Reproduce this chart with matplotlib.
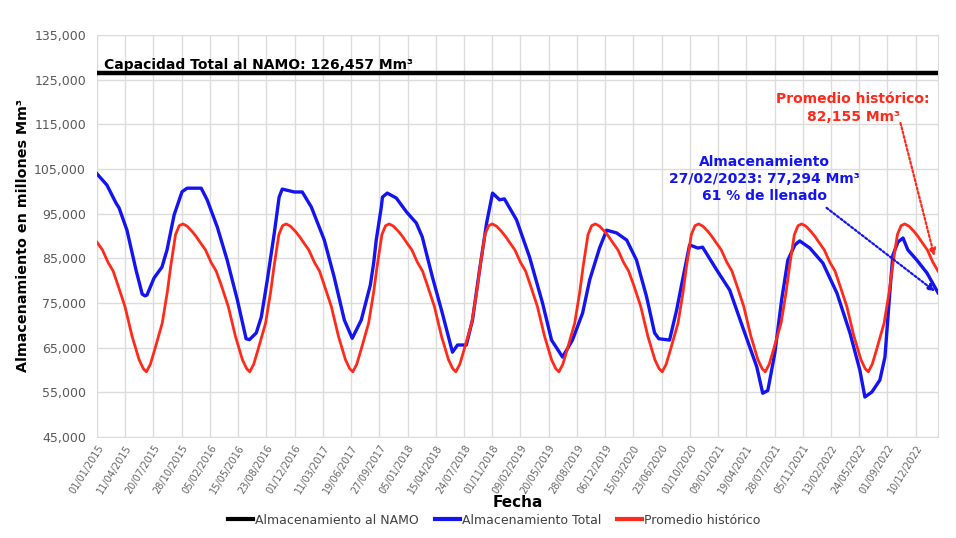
import matplotlib
matplotlib.use('Agg')
import matplotlib.pyplot as plt
from matplotlib.ticker import FuncFormatter
import numpy as np
import pandas as pd

plt.rcParams['font.family'] = ['DejaVu Sans']

# capacidad total al NAMO (Mm3)
namo = 126457

# almacenamiento total: dias desde 01/01/2015 y valor leido (Mm3)
total_dia = [0, 35, 67, 78, 106, 138, 160, 170, 177, 202, 230, 248, 273, 301, 319,
             369, 390, 426, 461, 497, 528, 540, 564, 582, 603, 628, 645, 656, 699,
             727, 759, 805, 840, 876, 904, 936, 968, 980, 989, 1007, 1011, 1028,
             1060, 1096, 1131, 1152, 1188, 1223, 1259, 1277, 1308, 1330, 1355,
             1380, 1401, 1426, 1443, 1486, 1532, 1578, 1610, 1649, 1684, 1720,
             1745, 1780, 1805, 1840, 1876, 1911, 1947, 1975, 1990, 2028, 2053,
             2074, 2099, 2128, 2145, 2195, 2241, 2287, 2337, 2358, 2376, 2401,
             2425, 2447, 2472, 2489, 2525, 2571, 2621, 2667, 2702, 2720, 2745,
             2773, 2791, 2808, 2819, 2837, 2855, 2872, 2904, 2940, 2979]
total_val = [103900, 101400, 97400, 96300, 91300, 82400, 77000, 76600, 76800, 80600,
             83050, 86900, 94700, 99900, 100700, 100700, 98100, 92000, 84600, 75700,
             67000, 66800, 68300, 71900, 80100, 90700, 98700, 100500, 99850, 99850,
             96500, 89100, 80800, 71200, 67100, 71200, 79000, 84000, 89100, 96500,
             98700, 99600, 98500, 95400, 92900, 89800, 80800, 72750, 64000, 65600,
             65600, 71200, 82400, 92900, 99600, 98100, 98300, 93600, 85300, 75000,
             66700, 62900, 66700, 72750, 80150, 87300, 91300, 90700, 89100, 84600,
             76300, 68300, 67000, 66700, 73400, 80150, 88000, 87300, 87500, 82400,
             77900, 69600, 60700, 54800, 55400, 63800, 75700, 84600, 88000, 88900,
             87300, 83950, 77200, 68300, 60000, 53950, 55100, 57750, 62900, 77200,
             85700, 88650, 89550, 86900, 84600, 81700, 77294]

# promedio historico por dia del anio (mes-dia, Mm3)
hist_md = ['01-01', '01-20', '02-09', '02-27', '03-16', '04-10', '05-05', '05-30',
           '06-14', '06-25', '07-09', '07-24', '08-20', '09-07', '09-19', '10-06',
           '10-19', '11-01', '11-16', '12-04', '12-18', '12-31']
hist_val = [88600, 86900, 84100, 82155, 79000, 74200, 67600, 62300, 60300, 59600,
            61300, 64500, 70500, 77500, 83200, 90300, 92300, 92700, 92200, 91000,
            89900, 88700]
anios = [2015, 2016, 2017, 2018, 2019, 2020, 2021, 2022, 2023]

inicio = pd.Timestamp('2015-01-01')
fin = pd.Timestamp('2023-02-27')

total_fecha = inicio + pd.to_timedelta(total_dia, unit='D')

hist_fecha = []
hist_y = []
for a in anios:
    for md, v in zip(hist_md, hist_val):
        f = pd.Timestamp(str(a) + '-' + md)
        if f <= fin:
            hist_fecha.append(f)
            hist_y.append(v)

azul = '#1414f0'
rojo = '#ff2a1a'
gris = '#595959'

fig = plt.figure(figsize=(9.56, 5.38), dpi=100)
ax = fig.add_axes([0.1015, 0.1877, 0.8797, 0.7473])

ax.axhline(namo, color='black', lw=3.2, label='Almacenamiento al NAMO', zorder=3)
ax.plot(total_fecha, total_val, color=azul, lw=2.4, label='Almacenamiento Total', zorder=4)
ax.plot(hist_fecha, hist_y, color=rojo, lw=2.0, label='Promedio histórico', zorder=5)

ax.set_xlim(inicio, fin)
ax.set_ylim(45000, 135000)
ax.set_yticks(np.arange(45000, 135001, 10000))
ax.yaxis.set_major_formatter(FuncFormatter(lambda v, p: '{:,.0f}'.format(v)))

ticks = [inicio + pd.Timedelta(days=d) for d in range(0, 2901, 100)]
ax.set_xticks(ticks)
ax.set_xticklabels([t.strftime('%d/%m/%Y') for t in ticks], rotation=58,
                   ha='right', rotation_mode='anchor', fontsize=7, color='#666666')
ax.tick_params(axis='y', labelsize=9, colors=gris, length=0, pad=8)
ax.tick_params(axis='x', length=0, pad=4)

ax.grid(True, color='#dcdcdc', lw=1)
for s in ax.spines.values():
    s.set_color('#dcdcdc')

ax.set_ylabel('Almacenamiento en millones Mm³', fontsize=10.3, fontweight='bold', labelpad=3)
ax.set_xlabel('Fecha', fontsize=11, fontweight='bold', labelpad=0)

ax.text(0.008, 127300, 'Capacidad Total al NAMO: 126,457 Mm³', transform=ax.get_yaxis_transform(),
        fontsize=10, fontweight='bold', color='black', va='baseline', ha='left', zorder=6)

ax.text(0.899, 0.818, 'Promedio histórico:\n82,155 Mm³', transform=ax.transAxes,
        fontsize=10, fontweight='bold', color=rojo, ha='center', va='center',
        linespacing=1.3)
ax.text(0.794, 0.642, 'Almacenamiento\n27/02/2023: 77,294 Mm³\n61 % de llenado',
        transform=ax.transAxes, fontsize=10, fontweight='bold', color=azul,
        ha='center', va='center', linespacing=1.3)

ax.annotate('', xy=(inicio + pd.Timedelta(days=2966), 85500),
            xytext=(inicio + pd.Timedelta(days=2846), 115300),
            arrowprops=dict(arrowstyle='-|>', ls=(0, (1, 1.0)), color=rojo, lw=1.6,
                            mutation_scale=10, shrinkA=0, shrinkB=0), zorder=7)
ax.annotate('', xy=(inicio + pd.Timedelta(days=2968), 77600),
            xytext=(inicio + pd.Timedelta(days=2584), 96300),
            arrowprops=dict(arrowstyle='-|>', ls=(0, (1, 1.0)), color=azul, lw=1.6,
                            mutation_scale=10, shrinkA=0, shrinkB=0), zorder=7)

leg = fig.legend(loc='center', bbox_to_anchor=(0.517, 0.033), ncol=3, frameon=False,
                 fontsize=9, handlelength=2.0, handletextpad=0.15, columnspacing=1.3)
for t in leg.get_texts():
    t.set_color('#404040')
for h in leg.get_lines():
    h.set_linewidth(3)

fig.savefig('out.png', dpi=100)
